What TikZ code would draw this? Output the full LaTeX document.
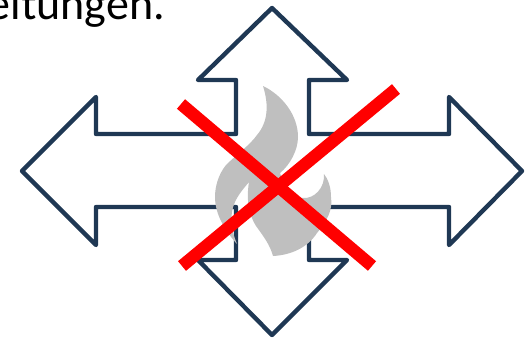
\documentclass[tikz,border=0pt]{standalone}
\usepackage{fontspec}
\setmainfont{Carlito}
\definecolor{navy}{RGB}{31,56,84}
\definecolor{flame}{RGB}{191,191,191}
\tikzset{x=1pt,y=-1pt,
 arrowline/.style={draw=navy,line width=4.4pt,line join=round},
 crossbar/.style={draw=red,line width=12.5pt},
 flameshape/.style={fill=flame,draw=none},
 caption/.style={font=\fontsize{46}{46}\selectfont,anchor=base east,inner sep=0pt}}
\begin{document}
\begin{tikzpicture}
\useasboundingbox (0,0) rectangle (529,337);
\node[caption] (cap) at (165,20) {Leitungen.};
\draw[arrowline] (272,8) -- (347,80) -- (309,80) -- (309,134) -- (449,134) -- (449,97)
 -- (522,171) -- (449,245) -- (449,207) -- (309,207) -- (309,260) -- (347,260) -- (272,335) -- (198,260) -- (236,260) -- (236,207)
 -- (96,207) -- (96,245) -- (22,171) -- (96,97) -- (96,134) -- (236,134) -- (236,80) -- (198,80) -- cycle;
\path[flameshape] (263,86) .. controls (269,105) and (268,122) .. (257,135)
  .. controls (250,145) and (236,155) .. (226,165)
  .. controls (218,175) and (215,187) .. (215,197)
  .. controls (215,215) and (226,232) .. (237,244)
  .. controls (231,230) and (229,215) .. (235,202)
  .. controls (238,195) and (244,188) .. (249,182)
  .. controls (246,200) and (249,215) .. (256,226)
  .. controls (264,237) and (270,245) .. (273,256)
  .. controls (292,255) and (308,247) .. (317,233)
  .. controls (327,221) and (333,210) .. (331,197)
  .. controls (331,187) and (328,179) .. (324,174)
  .. controls (325,188) and (314,199) .. (303,198)
  .. controls (292,197) and (285,188) .. (280,173)
  .. controls (290,165) and (298,150) .. (298,137)
  .. controls (298,115) and (282,95) .. (263,86) -- cycle;
\coordinate (a1) at (181,104);
\coordinate (a2) at (372,266);
\coordinate (b1) at (396,89);
\coordinate (b2) at (182,266);
\draw[crossbar] (a1) -- (a2);
\draw[crossbar] (b1) -- (b2);
\end{tikzpicture}
\end{document}
